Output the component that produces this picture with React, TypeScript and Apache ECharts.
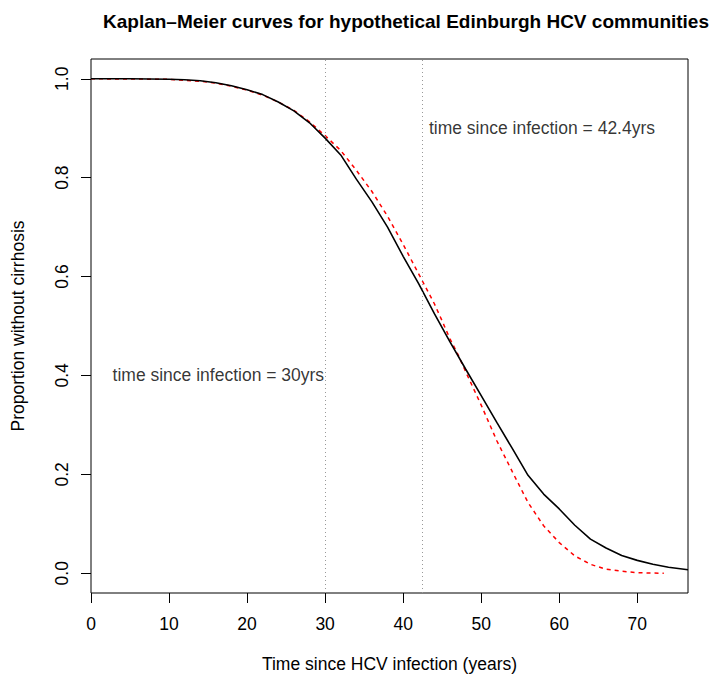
import React, { useEffect, useRef } from "react";
import * as echarts from "echarts";

// Kaplan–Meier curve (black, step-like)
const kmTime = [0, 5, 10, 12, 14, 16, 18, 20, 22, 24, 26, 28, 30, 32, 34, 36, 38, 40, 42, 44, 46, 48, 50, 52, 54, 56, 58, 60, 62, 64, 66, 68, 70, 72, 74, 76.5];
const kmSurv = [1.0, 1.0, 0.999, 0.998, 0.996, 0.992, 0.986, 0.978, 0.968, 0.953, 0.935, 0.911, 0.880, 0.846, 0.797, 0.751, 0.700, 0.641, 0.585, 0.525, 0.468, 0.413, 0.359, 0.305, 0.252, 0.198, 0.160, 0.130, 0.097, 0.069, 0.051, 0.036, 0.026, 0.018, 0.012, 0.007];

// Second community curve (red dashed)
const fitTime = [0, 10, 14, 16, 18, 20, 22, 24, 26, 28, 30, 32, 34, 36, 38, 40, 42, 44, 45, 46, 47, 48, 50, 52, 54, 56, 58, 60, 62, 64, 66, 68, 70, 72, 73.4];
const fitSurv = [1.0, 0.999, 0.995, 0.991, 0.985, 0.977, 0.967, 0.953, 0.936, 0.913, 0.885, 0.855, 0.815, 0.772, 0.722, 0.665, 0.605, 0.545, 0.51, 0.474, 0.443, 0.408, 0.340, 0.268, 0.205, 0.143, 0.096, 0.062, 0.035, 0.018, 0.008, 0.004, 0.001, 0.0003, 0.0];

const markerTimes = [30, 42.4];
const yTicks = [0, 0.2, 0.4, 0.6, 0.8, 1.0];
const annotations = [
  { x: 42.4, y: 0.9, text: "time since infection = 42.4yrs", side: "right" },
  { x: 30, y: 0.4, text: "time since infection = 30yrs", side: "left" },
];

const FONT = "'Liberation Sans', Arial, Helvetica, sans-serif";
const FS = 17.5;

export default function App() {
  const ref = useRef<HTMLDivElement>(null);
  useEffect(() => {
    if (!ref.current) return;
    const chart = echarts.init(ref.current, null, { renderer: "svg" });
    const zip = (a: number[], b: number[]) => a.map((v, i) => [v, b[i]]);
    chart.setOption({
      animation: false,
      backgroundColor: "#fff",
      textStyle: { fontFamily: FONT },
      title: {
        text: "Kaplan\u2013Meier curves for hypothetical Edinburgh HCV communities",
        left: 401,
        top: 7,
        textAlign: "center",
        textStyle: { fontSize: 19, fontWeight: "bold", color: "#000", fontFamily: FONT },
      },
      grid: {
        left: 91,
        right: 22,
        top: 59,
        bottom: 82,
        show: true,
        borderColor: "#000",
        borderWidth: 1,
        backgroundColor: "transparent",
        containLabel: false,
        outerBoundsMode: "none",
      },
      xAxis: {
        type: "value",
        min: 0,
        max: 76.5,
        interval: 10,
        name: "Time since HCV infection (years)",
        nameLocation: "middle",
        nameGap: 62,
        nameTextStyle: { fontSize: FS, color: "#000", fontFamily: FONT },
        axisLine: { show: false, onZero: false },
        axisTick: { show: true, length: 10, lineStyle: { color: "#000" } },
        axisLabel: { fontSize: FS, color: "#000", margin: 22, fontFamily: FONT, showMaxLabel: false },
        splitLine: { show: false },
      },
      yAxis: {
        type: "value",
        min: -0.04,
        max: 1.04,
        name: "Proportion without cirrhosis",
        nameLocation: "middle",
        nameGap: 64,
        nameRotate: 90,
        nameTextStyle: { fontSize: FS, color: "#000", fontFamily: FONT },
        axisLine: { show: false, onZero: false },
        axisTick: { show: true, length: 10, customValues: yTicks, lineStyle: { color: "#000" } },
        axisLabel: {
          fontSize: FS,
          color: "#000",
          margin: 20,
          rotate: 90,
          customValues: yTicks,
          formatter: (v: number) => v.toFixed(1),
          fontFamily: FONT,
        },
        splitLine: { show: false },
      },
      series: [
        {
          type: "line",
          data: zip(fitTime, fitSurv),
          showSymbol: false,
          lineStyle: { color: "#ff0000", width: 1.5, type: [4, 4] },
          z: 2,
        },
        {
          type: "line",
          data: zip(kmTime, kmSurv),
          showSymbol: false,
          lineStyle: { color: "#000", width: 1.6 },
          z: 3,
          markLine: {
            silent: true,
            symbol: "none",
            label: { show: false },
            lineStyle: { color: "#999", width: 1, type: [1, 3] },
            data: markerTimes.map((t) => ({ xAxis: t })),
          },
        },
        {
          type: "scatter",
          symbolSize: 0,
          silent: true,
          data: annotations.map((a) => ({
            value: [a.x, a.y],
            label: {
              show: true,
              formatter: a.text,
              position: a.side,
              distance: a.side === "right" ? 7 : 1,
              fontSize: FS,
              color: "#000",
              fontFamily: FONT,
            },
          })),
        },
      ],
    });
    return () => chart.dispose();
  }, []);
  return (
    <div
      ref={ref}
      style={{ position: "absolute", left: 0, top: 0, width: 710, height: 675 }}
    />
  );
}
